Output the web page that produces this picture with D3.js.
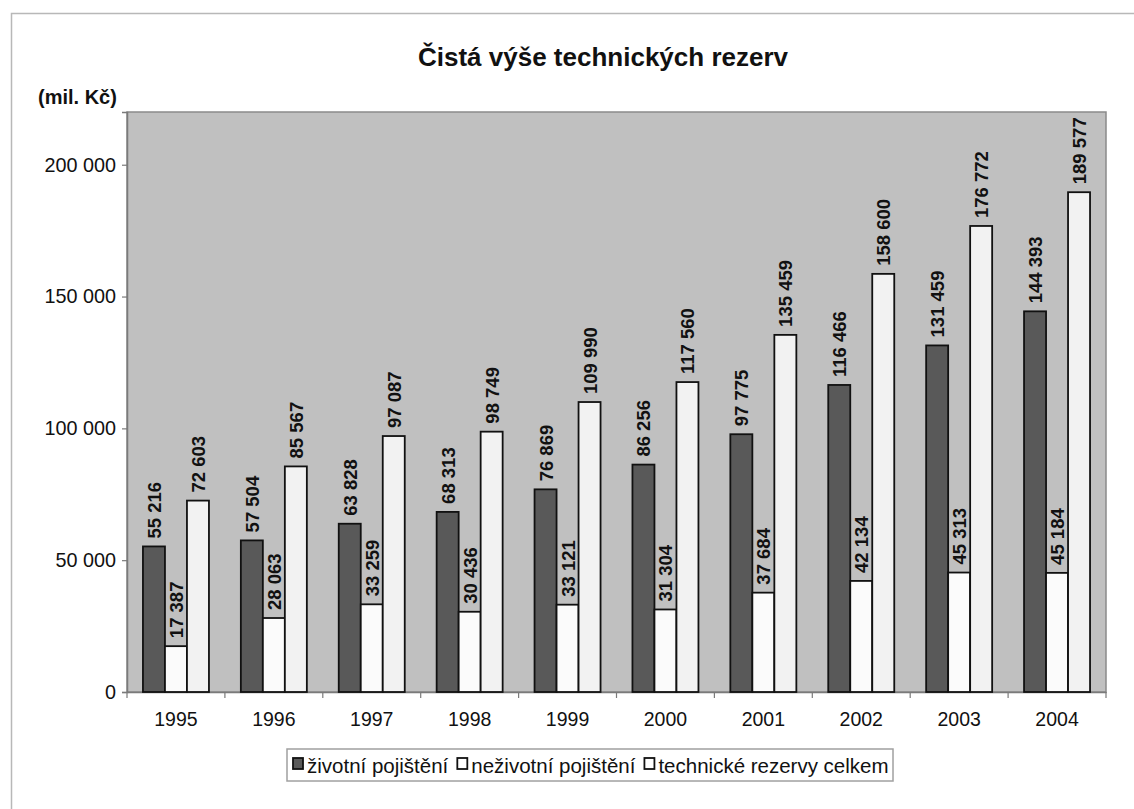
<!DOCTYPE html>
<html>
<head>
<meta charset="utf-8">
<script src="https://cdn.jsdelivr.net/npm/d3@7"></script>
<style>
  html, body { margin: 0; padding: 0; background: #ffffff; }
  svg { display: block; font-family: "Liberation Sans", Arial, sans-serif; }
</style>
</head>
<body>
<svg id="chart" width="1134" height="809"></svg>
<script>
const years = ["1995","1996","1997","1998","1999","2000","2001","2002","2003","2004"];
const seriesNames = ["životní pojištění","neživotní pojištění","technické rezervy celkem"];
const lifeValues = [55216, 57504, 63828, 68313, 76869, 86256, 97775, 116466, 131459, 144393];
const nonLifeValues = [17387, 28063, 33259, 30436, 33121, 31304, 37684, 42134, 45313, 45184];
const totalValues = [72603, 85567, 97087, 98749, 109990, 117560, 135459, 158600, 176772, 189577];
const yTicks = [0, 50000, 100000, 150000, 200000];
const titleText = "Čistá výše technických rezerv";
const unitText = "(mil. Kč)";

const seriesValues = [lifeValues, nonLifeValues, totalValues];
const seriesFill = ["#595959", "#fbfbfb", "#f2f2f2"];

const svg = d3.select("#chart");
const fmt = d3.formatLocale({decimal: ",", thousands: " ", grouping: [3], currency: ["", ""]}).format(",d");

// outer frame
svg.append("rect").attr("x", 11.5).attr("y", 13.5).attr("width", 1300).attr("height", 1000)
  .attr("fill", "#ffffff").attr("stroke", "#b8b8b8").attr("stroke-width", 1.5);

const plot = {left: 127, right: 1106, top: 112, bottom: 692};

const x = d3.scaleBand().domain(years).range([plot.left, plot.right]).paddingInner(0).paddingOuter(0);
const groupW = 66;
const xs = d3.scaleBand().domain(d3.range(3)).range([0, groupW]).padding(0);
const y = d3.scaleLinear().domain([0, 220000]).range([plot.bottom, plot.top]);

// plot background
svg.append("rect").attr("x", plot.left).attr("y", plot.top)
  .attr("width", plot.right - plot.left).attr("height", plot.bottom - plot.top)
  .attr("fill", "#c0c0c0").attr("stroke", "#8a8a8a").attr("stroke-width", 1.5);

// y axis
const yAxis = d3.axisLeft(y).tickValues(yTicks).tickFormat(fmt).tickSize(5).tickPadding(6);
const gy = svg.append("g").attr("transform", `translate(${plot.left},0)`).call(yAxis);
gy.select(".domain").attr("stroke", "#7a7a7a").attr("stroke-width", 1.5);
gy.selectAll(".tick line").attr("stroke", "#7a7a7a").attr("stroke-width", 1.2);
gy.selectAll(".tick text").attr("font-size", 19.8).attr("fill", "#111")
  .attr("font-family", "'Liberation Sans', Arial, sans-serif");

// x axis
const xAxis = d3.axisBottom(x).tickSize(0).tickPadding(20);
const gx = svg.append("g").attr("transform", `translate(0,${plot.bottom})`).call(xAxis);
gx.select(".domain").attr("stroke", "#7a7a7a").attr("stroke-width", 1.5);
gx.selectAll(".tick text").attr("font-size", 19.5).attr("fill", "#111")
  .attr("font-family", "'Liberation Sans', Arial, sans-serif");
// category boundary ticks
const boundaries = years.map(d => x(d)).concat([x(years[years.length - 1]) + x.bandwidth()]);
svg.append("g").selectAll("line").data(boundaries).join("line")
  .attr("x1", d => d).attr("x2", d => d)
  .attr("y1", plot.bottom).attr("y2", plot.bottom + 6)
  .attr("stroke", "#7a7a7a").attr("stroke-width", 1.2);

// bars
const barsData = [];
years.forEach((yr, i) => {
  seriesValues.forEach((vals, s) => {
    barsData.push({year: yr, s: s, v: vals[i]});
  });
});
const gOff = (x.bandwidth() - groupW) / 2;
const bars = svg.append("g");
bars.selectAll("rect").data(barsData).join("rect")
  .attr("x", d => x(d.year) + gOff + xs(d.s))
  .attr("y", d => y(d.v))
  .attr("width", xs.bandwidth())
  .attr("height", d => y(0) - y(d.v))
  .attr("fill", d => seriesFill[d.s])
  .attr("stroke", "#111")
  .attr("stroke-width", 1.8);

// data labels
svg.append("g").selectAll("text").data(barsData).join("text")
  .attr("transform", d => {
    const cx = x(d.year) + gOff + xs(d.s) + xs.bandwidth() / 2 + 7;
    const cy = y(d.v) - 8;
    return `translate(${cx},${cy}) rotate(-90)`;
  })
  .attr("text-anchor", "start")
  .attr("font-size", 18.5)
  .attr("font-weight", "bold")
  .attr("fill", "#111")
  .text(d => fmt(d.v));

// title
svg.append("text").attr("x", 603).attr("y", 66).attr("text-anchor", "middle")
  .attr("font-size", 26).attr("font-weight", "bold").attr("fill", "#111")
  .text(titleText);

// unit label
svg.append("text").attr("x", 38).attr("y", 104)
  .attr("font-size", 20).attr("font-weight", "bold").attr("fill", "#111")
  .text(unitText);

// legend
const legend = svg.append("g");
legend.append("rect").attr("x", 287).attr("y", 749).attr("width", 606).attr("height", 32)
  .attr("fill", "#ffffff").attr("stroke", "#a0a0a0").attr("stroke-width", 1.5);
let lx = 293;
const legendItems = legend.selectAll("g.item").data(seriesNames).join("g").attr("class", "item");
legendItems.each(function(name, i) {
  const g = d3.select(this);
  g.append("rect").attr("x", 0).attr("y", 758).attr("width", 10).attr("height", 11)
    .attr("fill", i === 0 ? "#595959" : "#ffffff").attr("stroke", "#111").attr("stroke-width", 1.8);
  const t = g.append("text").attr("x", 14).attr("y", 772.5)
    .attr("font-size", 20.5).attr("fill", "#111").text(name);
  g.attr("transform", `translate(${lx},0)`);
  lx += 14 + t.node().getComputedTextLength() + 9;
});
</script>
</body>
</html>
